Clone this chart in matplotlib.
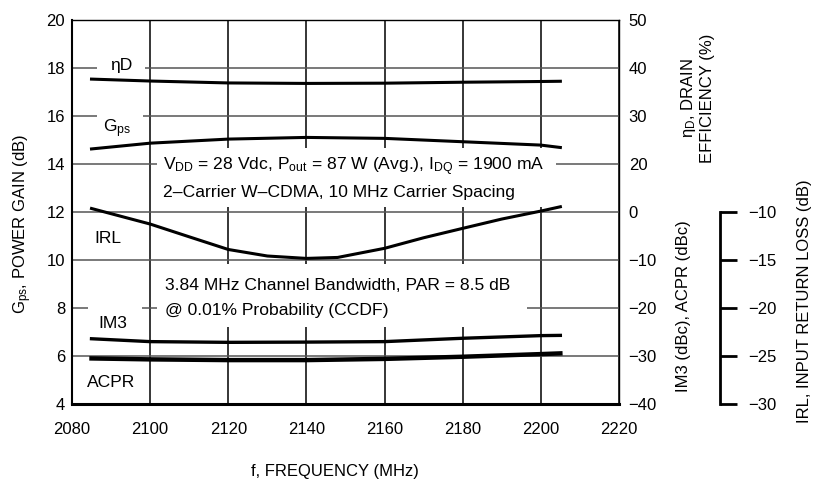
import numpy as np
import matplotlib.pyplot as plt
from matplotlib.patches import Rectangle

plt.rcParams['font.family'] = ['Liberation Sans', 'DejaVu Sans']
plt.rcParams['mathtext.default'] = 'regular'
plt.rcParams['font.size'] = 12

# data
freq = [2085, 2100, 2120, 2140, 2160, 2180, 2200, 2205]
gps = [14.63, 14.87, 15.04, 15.11, 15.07, 14.93, 14.79, 14.69]
eta_d = [37.7, 37.3, 36.9, 36.8, 36.85, 37.05, 37.2, 37.25]
irl_freq = [2085, 2100, 2110, 2120, 2130, 2140, 2148, 2160, 2170, 2180, 2190, 2200, 2205]
irl = [-9.63, -11.25, -12.58, -13.9, -14.58, -14.83, -14.73, -13.78, -12.68, -11.7,
       -10.73, -9.9, -9.45]
im3 = [-26.4, -27.0, -27.15, -27.1, -27.0, -26.3, -25.75, -25.7]
acpr = [-30.5, -30.7, -30.85, -30.85, -30.6, -30.15, -29.6, -29.45]

x_ticks = [2080, 2100, 2120, 2140, 2160, 2180, 2200, 2220]
gps_ticks = [4, 6, 8, 10, 12, 14, 16, 18, 20]
eta_ticks = [20, 30, 40, 50]
dbc_ticks = [-40, -30, -20, -10, 0]
irl_ticks = [-30, -25, -20, -15, -10]

fig = plt.figure(figsize=(8.17, 4.86), dpi=100)
ax = fig.add_axes([0.0881, 0.1687, 0.6695, 0.790])
ax_eta = ax.twinx()
ax_dbc = ax.twinx()
ax_irl = ax.twinx()

# main axis
ax.set_xlim(2080, 2220)
ax.set_ylim(4, 20)
ax.set_xticks(x_ticks)
ax.set_yticks(gps_ticks)
ax.set_axisbelow(True)
ax.grid(axis='x', color='black', lw=1.1)
ax.grid(axis='y', color='#555555', lw=1.1)
ax.tick_params(axis='x', length=0, pad=13)
ax.tick_params(axis='y', length=0, pad=5)
ax.spines['bottom'].set_linewidth(2.2)
ax.spines['left'].set_linewidth(1.5)
ax.spines['top'].set_linewidth(1.0)
ax.spines['right'].set_linewidth(1.0)
ax.set_xlabel('f, FREQUENCY (MHz)')
ax.xaxis.set_label_coords(0.48, -0.155)
ax.set_ylabel('G$_{ps}$, POWER GAIN (dB)')
ax.yaxis.set_label_coords(-0.07, 0.47)

# white boxes hiding the grid behind the texts
boxes = [(2101.8, 12.2, 102.1, 2.47), (2101.8, 7.21, 94.7, 2.62),
         (2086.4, 17.7, 12.3, 0.75), (2086.4, 15.7, 11.8, 0.6),
         (2084.1, 7.6, 13.8, 0.7)]
for bx, by, bw, bh in boxes:
    ax.add_patch(Rectangle((bx, by), bw, bh, facecolor='white', edgecolor='none', zorder=1))

ax.plot(freq, gps, color='black', lw=2.2, zorder=3)

fs = 12.6
ax.text(2103.3, 13.75, 'V$_{DD}$ = 28 Vdc, P$_{out}$ = 87 W (Avg.), I$_{DQ}$ = 1900 mA',
        va='baseline', ha='left', zorder=2, fontsize=fs)
ax.text(2103.3, 12.63, '2\u2013Carrier W\u2013CDMA, 10 MHz Carrier Spacing',
        va='baseline', ha='left', zorder=2, fontsize=fs)
ax.text(2103.8, 8.75, '3.84 MHz Channel Bandwidth, PAR = 8.5 dB',
        va='baseline', ha='left', zorder=2, fontsize=fs)
ax.text(2103.8, 7.71, '@ 0.01% Probability (CCDF)',
        va='baseline', ha='left', zorder=2, fontsize=fs)

ax.text(2092.5, 17.92, '\u03b7D', ha='center', va='baseline', zorder=2, fontsize=fs)
ax.text(2091.5, 15.33, 'G$_{ps}$', ha='center', va='baseline', zorder=2, fontsize=fs)
ax.text(2089.2, 10.71, 'IRL', ha='center', va='baseline', zorder=2, fontsize=fs)
ax.text(2090.5, 7.17, 'IM3', ha='center', va='baseline', zorder=2, fontsize=fs)
ax.text(2090.0, 4.71, 'ACPR', ha='center', va='baseline', zorder=2, fontsize=fs)

# right axes: drain efficiency (upper scale) and IM3/ACPR (lower scale)
ax_eta.set_ylim(-30, 50)
ax_eta.set_yticks(eta_ticks)
ax_dbc.set_ylim(-40, 40)
ax_dbc.set_yticks(dbc_ticks)
for a in (ax_eta, ax_dbc):
    a.tick_params(axis='y', length=0, pad=7)
    for s in a.spines.values():
        s.set_visible(False)
ax_eta.plot(freq, eta_d, color='black', lw=2.2)
ax_dbc.plot(freq, im3, color='black', lw=2.4)
ax_dbc.plot(freq, acpr, color='black', lw=3.2)

# third axis: IRL
ax_irl.set_ylim(-30, 10)
ax_irl.set_yticks(irl_ticks)
for k, s in ax_irl.spines.items():
    if k != 'right':
        s.set_visible(False)
ax_irl.spines['right'].set_position(('axes', 1.185))
ax_irl.spines['right'].set_bounds(-30, -10)
ax_irl.spines['right'].set_linewidth(2.0)
ax_irl.tick_params(axis='y', direction='out', length=12, width=2.0, pad=8)
ax_irl.plot(irl_freq, irl, color='black', lw=2.2)

fig.text(0.853, 0.798, '\u03b7$_{D}$, DRAIN\nEFFICIENCY (%)', rotation=90,
         ha='center', va='center', multialignment='center')
fig.text(0.836, 0.370, 'IM3 (dBc), ACPR (dBc)', rotation=90, ha='center', va='center')
fig.text(0.985, 0.381, 'IRL, INPUT RETURN LOSS (dB)', rotation=90, ha='center', va='center')

fig.savefig('out.png', dpi=100)
